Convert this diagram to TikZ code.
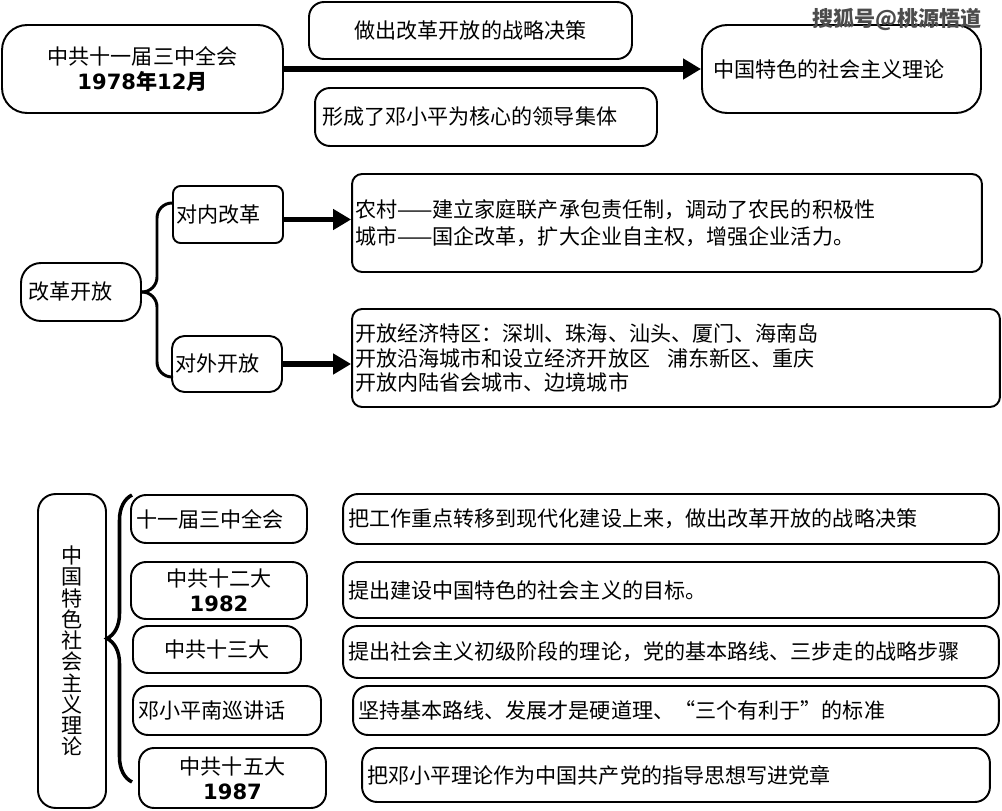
\documentclass[tikz,border=0pt]{standalone}
\usepackage{fontspec}
\setmainfont{Noto Sans CJK SC}
\newfontfamily\numfont{DejaVu Sans}
\usetikzlibrary{arrows.meta, decorations.pathreplacing}

\begin{document}
\begin{tikzpicture}[x=0.02cm, y=-0.02cm, >={Triangle[length=0.36cm, width=0.4cm]},
    box/.style={draw, line width=1.1pt, rounded corners=0.3cm, inner xsep=0.1cm, inner ysep=0pt,
                font=\fontsize{12}{14.5}\selectfont},
    note/.style={box, align=left},
    flow/.style={->, line width=3.2pt},
    link/.style={line width=1.7pt, rounded corners=0.3cm}]

    \useasboundingbox (0,0) rectangle (1002,811);

    % Top: the session and its result
    \node[box, rounded corners=0.5cm, align=center, minimum width=5.62cm, minimum height=1.76cm] (meet) at (142.5,69)
        {中共十一届三中全会\\{\bfseries\numfont 1978}{\bfseries 年}{\bfseries\numfont 12}{\bfseries 月}};
    \node[box, minimum width=6.46cm, minimum height=1.14cm] (decision) at (470.5,30.5) {做出改革开放的战略决策};
    \node[note, text width=6.56cm, inner xsep=0.14cm, minimum height=1.16cm] (leader) at (486,117) {形成了邓小平为核心的领导集体};
    \node[note, rounded corners=0.5cm, text width=5.14cm, inner xsep=0.22cm, minimum height=1.76cm] (theory) at (841.5,69) {中国特色的社会主义理论};
    \node[text=black!70, font=\fontsize{12}{14}\selectfont\bfseries] (mark) at (897,19) {搜狐号@桃源悟道};

    \path (meet) edge[flow] (theory);

    % Middle: reform and opening
    \node[note, rounded corners=0.4cm, text width=2.12cm, inner xsep=0.14cm, minimum height=1.16cm] (reform) at (81,292) {改革开放};
    \node[note, rounded corners=0.15cm, text width=2.08cm, inner xsep=0.06cm, minimum height=1.14cm] (inner) at (228,214.5) {对内改革};
    \node[note, rounded corners=0.25cm, text width=2.08cm, inner xsep=0.06cm, minimum height=1.12cm] (outer) at (227,364) {对外开放};
    \node[note, rounded corners=0.2cm, text width=12.48cm, inner xsep=0.06cm, minimum height=1.96cm,
          font=\fontsize{12}{15.3}\selectfont] (innerText) at (667,223)
        {农村——建立家庭联产承包责任制，调动了农民的积极性\\城市——国企改革，扩大企业自主权，增强企业活力。};
    \node[note, rounded corners=0.2cm, text width=12.84cm, inner xsep=0.06cm, minimum height=1.96cm,
          font=\fontsize{12}{14.2}\selectfont] (outerText) at (676,358)
        {开放经济特区：深圳、珠海、汕头、厦门、海南岛\\开放沿海城市和设立经济开放区\hspace{0.8em}浦东新区、重庆\\开放内陆省会城市、边境城市};

    \coordinate (innerIn) at (173,203);
    \coordinate (outerIn) at (173,377);
    \draw[link] (reform.east) -| (157,203) -- (innerIn);
    \draw[link] (reform.east) -| (157,377) -- (outerIn);
    \path[transform canvas={yshift=-0.1cm}] (inner.east) edge[flow] (inner.east -| innerText.west);
    \path (outer.east) edge[flow] (outer.east -| outerText.west);

    % Bottom: stages of the theory
    \node[box, rounded corners=0.35cm, align=center, minimum width=1.36cm, minimum height=6.28cm,
          font=\fontsize{12}{12.1}\selectfont] (core) at (72,651)
        {中\\国\\特\\色\\社\\会\\主\\义\\理\\论};
    \coordinate (braceTop) at (132,495);
    \coordinate (braceBot) at (132,782);
    \draw[line width=2pt, decorate, decoration={brace, amplitude=0.5cm}] (braceBot) -- (braceTop);

    \node[note, text width=3.32cm, minimum height=0.96cm] (third) at (219,519) {十一届三中全会};
    \node[box, align=center, minimum width=3.52cm, minimum height=1.14cm, font=\fontsize{12}{14}\selectfont] (twelfth) at (219,590.5)
        {中共十二大\\{\bfseries\numfont 1982}};
    \node[box, minimum width=3.36cm, minimum height=0.94cm] (thirteenth) at (217,649.5) {中共十三大};
    \node[note, text width=3.56cm, minimum height=0.98cm] (south) at (227,710.5) {邓小平南巡讲话};
    \node[box, align=center, minimum width=3.74cm, minimum height=1.2cm, font=\fontsize{12}{14}\selectfont] (fifteenth) at (232.5,778)
        {中共十五大\\{\bfseries\numfont 1987}};

    \node[note, text width=12.92cm, minimum height=1.0cm] (thirdText) at (671,519) {把工作重点转移到现代化建设上来，做出改革开放的战略决策};
    \node[note, text width=12.92cm, minimum height=1.12cm] (twelfthText) at (671,590) {提出建设中国特色的社会主义的目标。};
    \node[note, text width=12.92cm, minimum height=1.04cm] (thirteenthText) at (671,652) {提出社会主义初级阶段的理论，党的基本路线、三步走的战略步骤};
    \node[note, text width=12.72cm, minimum height=0.98cm] (southText) at (676,710.5) {坚持基本路线、发展才是硬道理、“三个有利于”的标准};
    \node[note, text width=12.36cm, minimum height=1.08cm] (fifteenthText) at (676,775) {把邓小平理论作为中国共产党的指导思想写进党章};

\end{tikzpicture}
\end{document}
